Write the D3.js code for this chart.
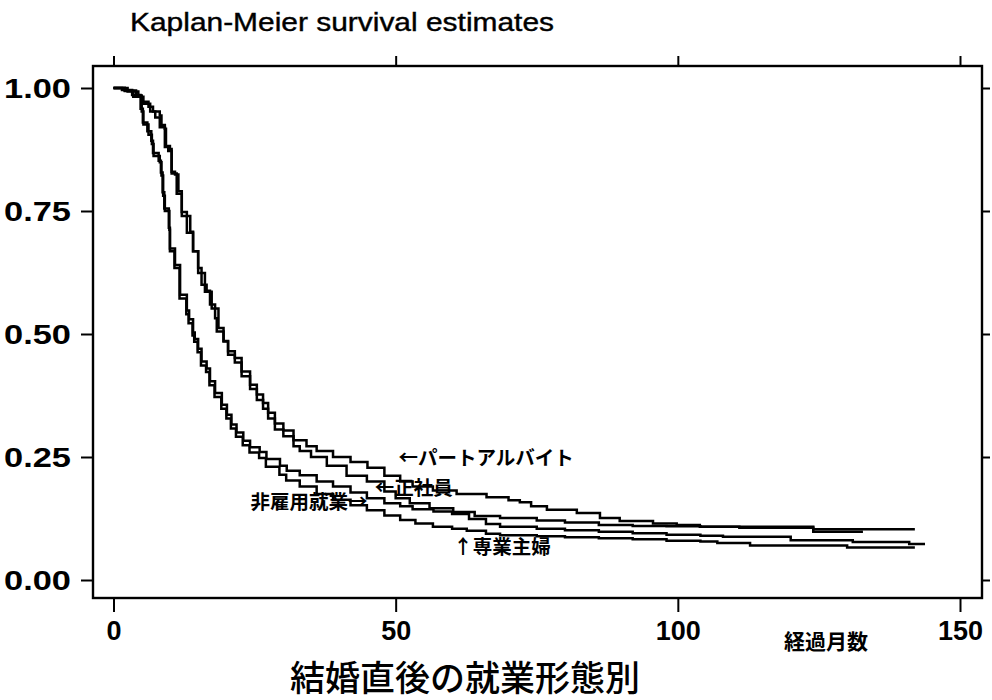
<!DOCTYPE html>
<html>
<head>
<meta charset="utf-8">
<script src="https://cdn.jsdelivr.net/npm/d3@7"></script>
<style>
  html, body { margin: 0; padding: 0; background: #fff; }
  svg { display: block; }
</style>
</head>
<body>
<svg id="chart" width="992" height="700"></svg>
<script>
// Kaplan-Meier step curves: [months since marriage, survival estimate]
const partTime = [
  [0,1],[2,0.995],[4,0.985],[5,0.972],[6.2,0.962],[7,0.952],[8.2,0.944],[8.5,0.925],
  [9.1,0.917],[9.3,0.882],[10,0.876],[10.3,0.830],[10.9,0.824],[11.5,0.790],[12.1,0.748],
  [13,0.740],[13.6,0.708],[14.1,0.668],[15,0.634],[15.6,0.600],[16.5,0.588],[17.1,0.560],
  [18,0.532],[18.3,0.505],[19.5,0.485],[20.3,0.465],[21.5,0.451],[22.7,0.424],[24.2,0.397],
  [25.4,0.377],[26.5,0.360],[27.4,0.340],[28.6,0.318],[30.1,0.304],[31.9,0.284],[34.2,0.272],
  [36,0.262],[38.9,0.250],[42,0.240],[45,0.228],[48,0.212],[50.8,0.200],[53,0.190],
  [56.6,0.182],[60.8,0.175],[66.1,0.168],[70,0.162],[72,0.158],[74,0.150],[76.8,0.143],
  [82.1,0.136],[86.2,0.126],[89.7,0.120],[95.6,0.115],[99.8,0.112],[103.9,0.108],
  [110.9,0.106],[124,0.103],[142,0.103]
];
const fullTime = [
  [0,1],[2.5,0.993],[4.4,0.982],[5.3,0.968],[6.5,0.952],[7.4,0.940],[8.2,0.920],[9.1,0.880],
  [9.7,0.872],[10.3,0.826],[11.2,0.785],[12.1,0.740],[13,0.706],[14.1,0.668],[15,0.624],
  [16.2,0.586],[17.4,0.552],[18.6,0.512],[19.5,0.486],[20.3,0.458],[21.5,0.442],[22.7,0.414],
  [24.2,0.388],[25.4,0.366],[26.5,0.348],[27.4,0.328],[28.6,0.306],[30.1,0.292],[31.9,0.272],
  [33,0.262],[35,0.250],[37.8,0.232],[41.3,0.212],[44.9,0.200],[48,0.180],[50,0.166],
  [52.5,0.156],[56,0.146],[60.2,0.138],[64,0.130],[68.5,0.126],[75,0.121],[80,0.117],
  [86,0.112],[92,0.110],[98,0.109],[104,0.108],[124,0.098],[132.8,0.098]
];
const selfEmployed = [
  [0,1],[2,0.994],[3.5,0.982],[5,0.952],[5.3,0.926],[6.2,0.905],[6.8,0.886],[7.1,0.862],
  [8.2,0.849],[8.5,0.822],[8.8,0.781],[9.1,0.750],[9.9,0.712],[10,0.674],[10.9,0.640],
  [11.8,0.580],[13,0.548],[13.4,0.530],[14.1,0.503],[14.4,0.490],[15,0.470],[15.6,0.444],
  [16.5,0.430],[17.1,0.404],[18,0.380],[19.2,0.356],[20.1,0.336],[20.9,0.316],[21.8,0.300],
  [23,0.283],[24.2,0.270],[25.9,0.260],[27.1,0.246],[29.5,0.232],[30.7,0.222],[33,0.213],
  [36,0.200],[38.9,0.190],[42,0.178],[44.9,0.166],[48,0.156],[50.8,0.150],[53,0.144],
  [56.7,0.139],[60,0.134],[63,0.124],[66,0.114],[68.5,0.108],[75,0.104],[80,0.101],
  [86,0.098],[92,0.095],[98,0.092],[104,0.090],[108,0.088],[120,0.081],[131,0.077],
  [141,0.073],[143.8,0.073]
];
const housewife = [
  [0,1],[1.5,0.996],[3.3,0.986],[4.8,0.958],[5.2,0.930],[6,0.912],[6.7,0.893],[7,0.868],
  [8,0.852],[8.4,0.828],[8.7,0.788],[9,0.755],[9.8,0.716],[10,0.668],[10.8,0.634],
  [11.7,0.572],[12.9,0.540],[13.3,0.522],[14,0.497],[14.3,0.484],[14.9,0.463],[15.5,0.436],
  [16.4,0.423],[17,0.396],[17.9,0.372],[19.1,0.348],[20,0.328],[20.8,0.308],[21.7,0.291],
  [22.9,0.274],[24.1,0.259],[25.8,0.248],[27,0.230],[29.4,0.214],[30.6,0.202],[33,0.190],
  [36,0.175],[38.9,0.163],[42,0.152],[44.9,0.142],[48,0.131],[50.8,0.122],[53.5,0.115],
  [56.6,0.108],[60,0.104],[62.6,0.100],[66,0.094],[68.5,0.091],[75,0.089],[80,0.087],
  [86,0.085],[92,0.083],[98,0.080],[104,0.078],[107,0.075],[112.8,0.070],[130,0.066],
  [142,0.066]
];

// Curve labels: text, anchor month, anchor survival
const curveLabels = [
  { text: "←パートアルバイト", t: 50.5, s: 0.247, anchor: "start" },
  { text: "←正社員", t: 46.3, s: 0.188, anchor: "start" },
  { text: "非雇用就業→", t: 45.0, s: 0.158, anchor: "end" },
  { text: "↑専業主婦", t: 60.2, s: 0.067, anchor: "start" }
];

const xTicks = [0, 50, 100, 150];
const yTicks = [0, 0.25, 0.5, 0.75, 1];
const yTickLabels = ["0.00", "0.25", "0.50", "0.75", "1.00"];
const titleText = "Kaplan-Meier survival estimates";
const xUnitText = "経過月数";
const subtitleText = "結婚直後の就業形態別";

const svg = d3.select("#chart");
const frame = { left: 93, right: 982, top: 66, bottom: 598 };

const x = d3.scaleLinear().domain([0, 150]).range([113.5, 960]);
const y = d3.scaleLinear().domain([0, 1]).range([580, 88]);

const latin = "'Liberation Sans', Arial, Helvetica, sans-serif";
const cjk = "'Noto Sans CJK JP', 'Noto Sans CJK SC', sans-serif";

// Title
svg.append("text")
  .attr("x", 130).attr("y", 31)
  .attr("font-family", latin).attr("font-size", 26)
  .attr("stroke", "#000").attr("stroke-width", 0.4)
  .attr("textLength", 424).attr("lengthAdjust", "spacingAndGlyphs")
  .text(titleText);

// Axes (ticks only; the frame is drawn separately)
function styleAxis(g) {
  g.select(".domain").remove();
  g.selectAll(".tick line").attr("stroke", "#000").attr("stroke-width", 2);
}

svg.append("g")
  .attr("transform", `translate(${frame.left},0)`)
  .call(d3.axisLeft(y).tickValues(yTicks).tickSize(12).tickPadding(10)
    .tickFormat((d, i) => yTickLabels[i]))
  .call(styleAxis)
  .call(g => g.selectAll(".tick text")
    .attr("font-family", latin).attr("font-weight", "bold").attr("font-size", 27)
    .attr("fill", "#000").attr("dy", "0.36em")
    .attr("textLength", 67).attr("lengthAdjust", "spacingAndGlyphs"));

svg.append("g")
  .attr("transform", `translate(${frame.right},0)`)
  .call(d3.axisRight(y).tickValues(yTicks).tickSize(8).tickFormat(""))
  .call(styleAxis);

svg.append("g")
  .attr("transform", `translate(0,${frame.bottom})`)
  .call(d3.axisBottom(x).tickValues(xTicks).tickSize(14).tickPadding(9))
  .call(styleAxis)
  .call(g => g.selectAll(".tick text")
    .attr("font-family", latin).attr("font-weight", "bold").attr("font-size", 27)
    .attr("fill", "#000"));

svg.append("g")
  .attr("transform", `translate(0,${frame.top})`)
  .call(d3.axisTop(x).tickValues(xTicks).tickSize(10).tickFormat(""))
  .call(styleAxis);

// Plot frame
svg.append("rect")
  .attr("x", frame.left).attr("y", frame.top)
  .attr("width", frame.right - frame.left).attr("height", frame.bottom - frame.top)
  .attr("fill", "none").attr("stroke", "#000").attr("stroke-width", 2.4);

// Survival curves
const line = d3.line()
  .x(d => x(d[0])).y(d => y(d[1]))
  .curve(d3.curveStepAfter);

svg.append("g")
  .selectAll("path")
  .data([partTime, fullTime, selfEmployed, housewife])
  .join("path")
  .attr("d", line)
  .attr("fill", "none")
  .attr("stroke", "#000")
  .attr("stroke-width", 2.5)
  .attr("stroke-linejoin", "miter");

// Curve labels
svg.append("g")
  .selectAll("text")
  .data(curveLabels)
  .join("text")
  .attr("x", d => x(d.t)).attr("y", d => y(d.s))
  .attr("text-anchor", d => d.anchor)
  .attr("dy", "0.36em")
  .attr("font-family", cjk).attr("font-weight", "bold").attr("font-size", 19.5)
  .text(d => d.text);

// Axis unit and subtitle
svg.append("text")
  .attr("x", 826).attr("y", 641).attr("dy", "0.36em")
  .attr("text-anchor", "middle")
  .attr("font-family", cjk).attr("font-weight", "bold").attr("font-size", 21)
  .text(xUnitText);

svg.append("text")
  .attr("x", 465).attr("y", 678).attr("dy", "0.36em")
  .attr("text-anchor", "middle")
  .attr("font-family", cjk).attr("font-weight", 500).attr("font-size", 35)
  .text(subtitleText);
</script>
</body>
</html>
